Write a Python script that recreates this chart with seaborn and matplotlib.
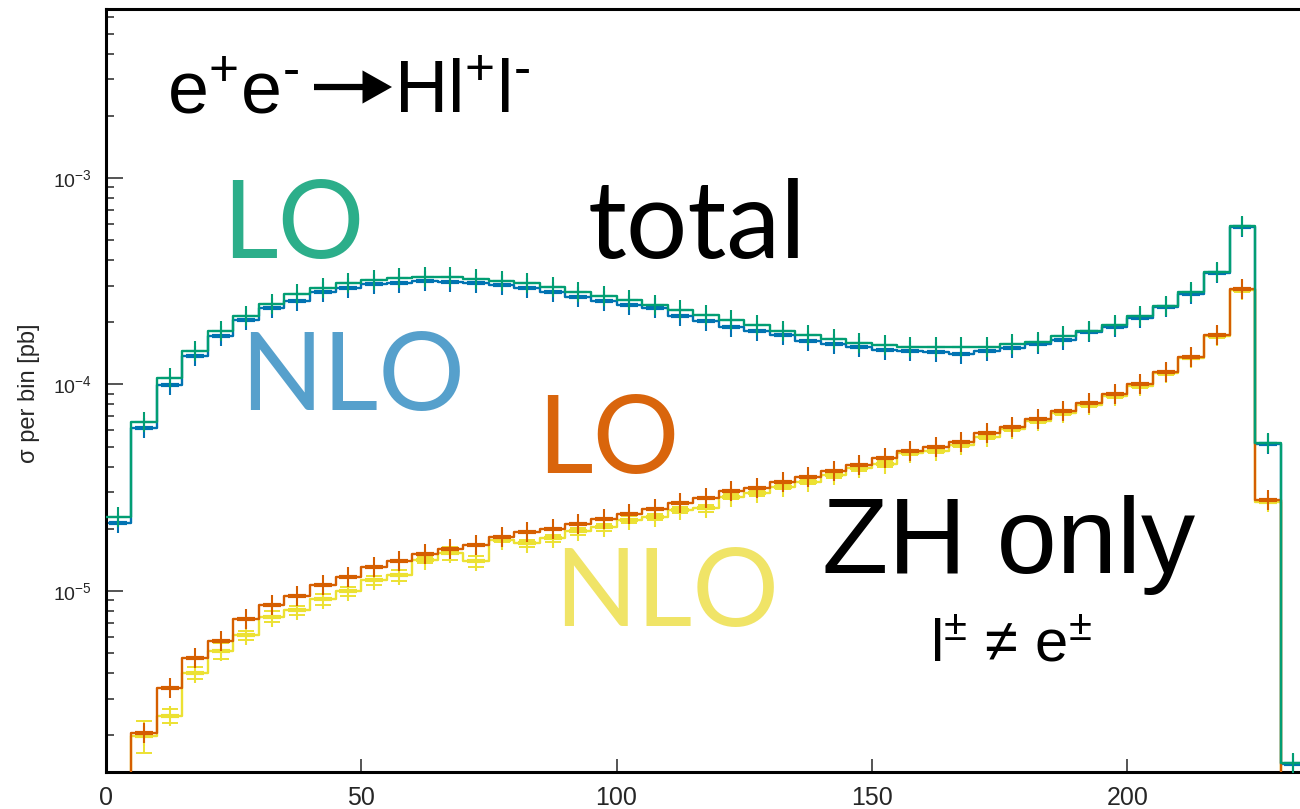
import numpy as np
import pandas as pd
import matplotlib
matplotlib.use("Agg")
import matplotlib.pyplot as plt
from matplotlib.ticker import LogLocator, NullFormatter, FixedLocator
import seaborn as sns

# Histogram binning (GeV), 5 GeV bins
bin_edges = np.arange(0.0, 240.0, 5.0)
bin_centers = 0.5 * (bin_edges[:-1] + bin_edges[1:])

# sigma per bin [pb]
lo_total = [2.29e-5, 6.56e-5, 1.07e-4, 1.45e-4, 1.82e-4, 2.15e-4, 2.45e-4, 2.74e-4, 2.92e-4, 3.09e-4,
            3.21e-4, 3.27e-4, 3.33e-4, 3.30e-4, 3.24e-4, 3.17e-4, 3.09e-4, 2.96e-4, 2.81e-4, 2.69e-4,
            2.56e-4, 2.43e-4, 2.30e-4, 2.17e-4, 2.05e-4, 1.93e-4, 1.82e-4, 1.74e-4, 1.66e-4, 1.59e-4,
            1.55e-4, 1.52e-4, 1.51e-4, 1.51e-4, 1.52e-4, 1.57e-4, 1.61e-4, 1.71e-4, 1.82e-4, 1.94e-4,
            2.15e-4, 2.40e-4, 2.79e-4, 3.52e-4, 5.86e-4, 5.22e-5, 1.47e-6]

nlo_total = [2.14e-5, 6.18e-5, 9.98e-5, 1.37e-4, 1.71e-4, 2.05e-4, 2.34e-4, 2.55e-4, 2.79e-4, 2.92e-4,
             3.07e-4, 3.11e-4, 3.18e-4, 3.15e-4, 3.09e-4, 3.03e-4, 2.92e-4, 2.79e-4, 2.66e-4, 2.55e-4,
             2.43e-4, 2.34e-4, 2.15e-4, 2.04e-4, 1.90e-4, 1.82e-4, 1.74e-4, 1.63e-4, 1.57e-4, 1.52e-4,
             1.47e-4, 1.46e-4, 1.44e-4, 1.41e-4, 1.46e-4, 1.50e-4, 1.57e-4, 1.64e-4, 1.79e-4, 1.90e-4,
             2.09e-4, 2.36e-4, 2.74e-4, 3.45e-4, 5.81e-4, 5.15e-5, 1.45e-6]

lo_zh = [1e-7, 2.06e-6, 3.40e-6, 4.72e-6, 5.73e-6, 7.31e-6, 8.55e-6, 9.46e-6, 1.07e-5, 1.17e-5,
         1.31e-5, 1.39e-5, 1.51e-5, 1.59e-5, 1.67e-5, 1.83e-5, 1.92e-5, 1.99e-5, 2.11e-5, 2.22e-5,
         2.36e-5, 2.50e-5, 2.66e-5, 2.81e-5, 3.05e-5, 3.16e-5, 3.38e-5, 3.58e-5, 3.79e-5, 4.08e-5,
         4.39e-5, 4.78e-5, 5.00e-5, 5.28e-5, 5.80e-5, 6.25e-5, 6.79e-5, 7.40e-5, 8.12e-5, 8.97e-5,
         1.005e-4, 1.15e-4, 1.36e-4, 1.74e-4, 2.89e-4, 2.76e-5, 1e-7]

nlo_zh = [1e-7, 1.99e-6, 2.49e-6, 4.02e-6, 5.14e-6, 6.12e-6, 7.51e-6, 8.09e-6, 9.12e-6, 1.00e-5,
          1.13e-5, 1.19e-5, 1.41e-5, 1.52e-5, 1.39e-5, 1.77e-5, 1.70e-5, 1.80e-5, 1.94e-5, 2.03e-5,
          2.21e-5, 2.29e-5, 2.47e-5, 2.51e-5, 2.86e-5, 2.97e-5, 3.20e-5, 3.38e-5, 3.65e-5, 3.93e-5,
          4.12e-5, 4.68e-5, 4.78e-5, 5.09e-5, 5.59e-5, 6.07e-5, 6.64e-5, 7.26e-5, 7.97e-5, 8.82e-5,
          9.80e-5, 1.13e-4, 1.35e-4, 1.71e-4, 2.86e-4, 2.71e-5, 1e-7]

# relative MC uncertainty of the NLO ZH prediction
nlo_zh_relerr = [0.0, 0.18, 0.08, 0.07, 0.09, 0.05, 0.06, 0.05, 0.06, 0.05,
                 0.05, 0.06, 0.03, 0.07, 0.06, 0.03, 0.04, 0.04, 0.04, 0.04,
                 0.04, 0.035, 0.035, 0.035, 0.03, 0.03, 0.03, 0.03, 0.03, 0.03,
                 0.03, 0.03, 0.025, 0.025, 0.025, 0.025, 0.025, 0.02, 0.02, 0.02,
                 0.02, 0.02, 0.02, 0.02, 0.02, 0.02, 0.0]

x_ticks = [0, 50, 100, 150, 200]
y_ticks = [1e-5, 1e-4, 1e-3]
y_tick_labels = [r"10$^{-5}$", r"10$^{-4}$", r"10$^{-3}$"]

sns.set_style("white")
plt.rcParams["font.family"] = ["Liberation Sans", "DejaVu Sans"]
plt.rcParams["mathtext.fontset"] = "custom"
plt.rcParams["mathtext.rm"] = "Liberation Sans"
plt.rcParams["mathtext.it"] = "Liberation Sans:italic"
plt.rcParams["mathtext.bf"] = "Liberation Sans:bold"
plt.rcParams["mathtext.default"] = "regular"

pal = sns.color_palette("colorblind")
c_lo_tot, c_nlo_tot, c_lo_zh, c_nlo_zh = pal[2], pal[0], pal[3], pal[8]

fig = plt.figure(figsize=(13, 8.09), dpi=100)
ax = fig.add_axes([0.0813, 0.0457, 0.9187, 0.9428])

series = [
    (nlo_zh, c_nlo_zh, 2),
    (lo_zh, c_lo_zh, 3),
    (nlo_total, c_nlo_tot, 2),
    (lo_total, c_lo_tot, 3),
]
n_bins = len(bin_edges) - 1
for vals, col, z in series:
    df = pd.DataFrame({"x": bin_centers, "sigma": np.asarray(vals, dtype=float)})
    sns.histplot(data=df, x="x", weights="sigma", bins=n_bins,
                 binrange=(bin_edges[0], bin_edges[-1]), element="step",
                 fill=False, color=col, linewidth=1.7, ax=ax, zorder=z)

# NLO ZH error bars with caps
nz = np.asarray(nlo_zh)
nz_err = nz * np.asarray(nlo_zh_relerr)
ax.errorbar(bin_centers, nz, yerr=nz_err, fmt="none", ecolor=c_nlo_zh,
            elinewidth=1.4, capsize=6, capthick=1.4, zorder=2)

# bin markers: thin vertical arm plus horizontal arm
marker_style = [
    (nlo_zh, c_nlo_zh, 3.0, 2.1),
    (lo_zh, c_lo_zh, 3.0, 3.1),
    (nlo_total, c_nlo_tot, 3.0, 2.1),
    (lo_total, c_lo_tot, 1.5, 3.1),
]
for vals, col, hw, z in marker_style:
    ax.plot(bin_centers, vals, ls="none", marker="|", ms=14.5, mew=1.5,
            color=col, zorder=z)
    ax.plot(bin_centers, vals, ls="none", marker="_", ms=12.5, mew=hw,
            color=col, zorder=z)

ax.set_yscale("log")
ax.set_xlim(0, 233.8)
ax.set_ylim(1.327e-6, 6.56e-3)

ax.xaxis.set_major_locator(FixedLocator(x_ticks))
ax.set_xticklabels([str(t) for t in x_ticks])
ax.set_yticks(y_ticks)
ax.set_yticklabels(y_tick_labels)
ax.yaxis.set_minor_locator(LogLocator(base=10, subs=np.arange(2, 10)))
ax.yaxis.set_minor_formatter(NullFormatter())

ax.tick_params(axis="y", which="major", direction="in", length=12, width=1.1,
               pad=10, labelsize=14, left=True)
ax.tick_params(axis="y", which="minor", direction="in", length=6, width=1.1, left=True)
ax.tick_params(axis="x", which="major", direction="in", length=9.5, width=1.1,
               pad=10, labelsize=18, bottom=True)
ax.tick_params(axis="x", which="minor", bottom=False)

for side in ("left", "bottom", "top"):
    ax.spines[side].set_linewidth(2.2)
    ax.spines[side].set_color("black")
ax.spines["right"].set_visible(False)

ax.set_xlabel("")
ax.set_ylabel("σ per bin [pb]", fontsize=17)
ax.yaxis.set_label_coords(-0.055, 0.497)


def fx(px):
    return px / 1300.0


def fy(py):
    return 1.0 - py / 809.0


# process label: e+e- -> H l+ l-
fig.text(fx(167), fy(113), r"e$^{+}$e$^{\text{-}}$", fontsize=53,
         ha="left", va="baseline", color="black")
fig.text(fx(394), fy(113), r"Hl$^{+}$l$^{\text{-}}$", fontsize=53,
         ha="left", va="baseline", color="black")
ax.annotate("", xy=(fx(392), fy(87)), xytext=(fx(314), fy(87)),
            xycoords="figure fraction", textcoords="figure fraction",
            arrowprops=dict(arrowstyle="-|>,head_length=0.8,head_width=0.45",
                            lw=4.5, color="black", shrinkA=0, shrinkB=0,
                            mutation_scale=18, joinstyle="miter",
                            capstyle="butt"),
            annotation_clip=False)

fig.text(fx(222), fy(258), "LO", fontsize=78, family=["Lato", "DejaVu Sans"],
         ha="left", va="baseline", color="#2CAE8A")
fig.text(fx(240), fy(410), "NLO", fontsize=78, family=["Lato", "DejaVu Sans"],
         ha="left", va="baseline", color="#56A0CC")
fig.text(fx(588), fy(258), "total", fontsize=78, family=["Lato", "DejaVu Sans"],
         ha="left", va="baseline", color="black")
fig.text(fx(537), fy(473), "LO", fontsize=78, family=["Lato", "DejaVu Sans"],
         ha="left", va="baseline", color="#D9650C")
fig.text(fx(554), fy(626), "NLO", fontsize=78, family=["Lato", "DejaVu Sans"],
         ha="left", va="baseline", color="#F0E467")
fig.text(fx(822), fy(573), "ZH only", fontsize=78, ha="left", va="baseline",
         color="black")
fig.text(fx(930), fy(662), r"l$^{\pm}$ ≠ e$^{\pm}$", fontsize=43, ha="left",
         va="baseline", color="black")

fig.savefig("out.png", dpi=100)
